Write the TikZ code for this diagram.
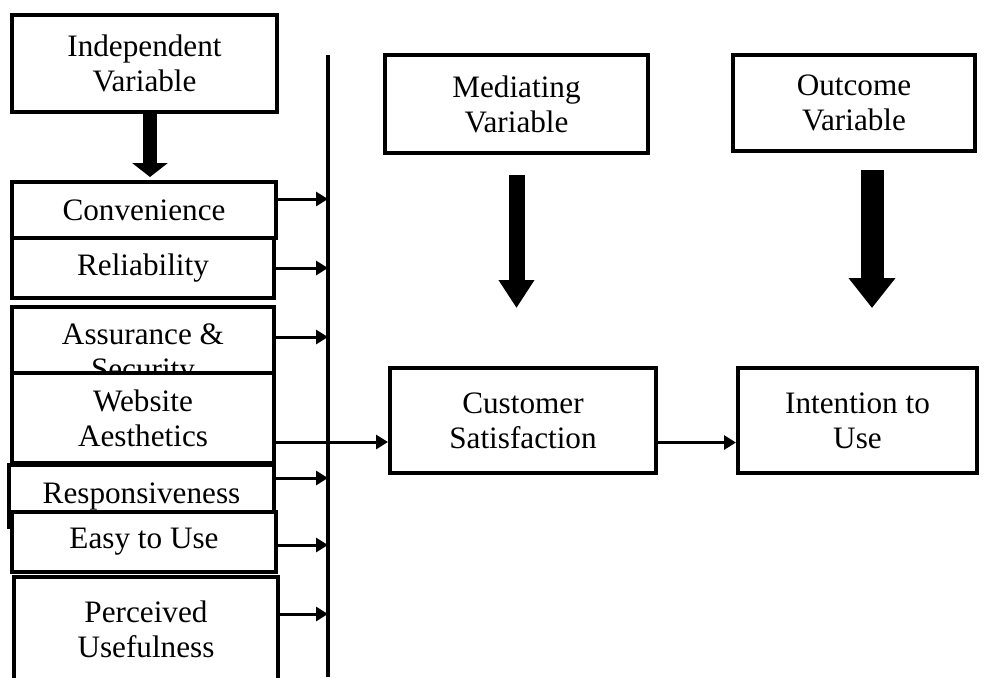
\documentclass[tikz,border=0pt]{standalone}
\usepackage{fontspec}
\setmainfont{Liberation Serif}
\usetikzlibrary{arrows.meta,calc}

\begin{document}
\begin{tikzpicture}
      [x = 0.5pt, y = -0.5pt,
      box/.style= {
         draw,
         fill = white,
         line width = 2pt,
         inner sep = 0pt,
         align = center,
         font = \fontsize{15.6}{17.5}\selectfont
      },
      link/.style= {
         line width = 1.5pt,
         -{Triangle[length = 6pt, width = 7pt]}
      },
      bigarrow/.style n args= {3}{
         line width = #1,
         -{Triangle[length = #2, width = #3]}
      }]
      \useasboundingbox (0, 0) rectangle (992, 677);

      \node[box, minimum width = 132.5pt, minimum height = 48.5pt] (indep) at (144.5, 63.5) {Independent\\Variable};
      \node[box, minimum width = 132pt, minimum height = 28pt] (conv) at (144, 210) {Convenience};
      \node[box, minimum width = 131pt, minimum height = 30pt] (reliab) at (143, 268) {Reliability};
      \node[box, minimum width = 131pt, minimum height = 48pt] (assur) at (143, 355) {Assurance \&\\Security};
      \node[box, minimum width = 131pt, minimum height = 45pt] (websi) at (143, 418) {Website\\Aesthetics};
      \node[box, minimum width = 132.5pt, minimum height = 31pt] (respon) at (141.5, 496) {Responsiveness};
      \node[box, minimum width = 132pt, minimum height = 30pt] (easy) at (144, 542) {Easy to Use};
      \node[box, minimum width = 132pt, minimum height = 52.5pt] (useful) at (146, 629.5) {Perceived\\Usefulness};

      \node[box, minimum width = 131.5pt, minimum height = 49pt] (mediat) at (516.5, 104) {Mediating\\Variable};
      \node[box, minimum width = 121pt, minimum height = 48pt] (outcome) at (854, 103) {Outcome\\Variable};
      \node[box, minimum width = 133pt, minimum height = 52.5pt] (satisf) at (523, 420.5) {Customer\\Satisfaction};
      \node[box, minimum width = 119.5pt, minimum height = 52.5pt] (intent) at (857.5, 420.5) {Intention to\\Use};

      % the bar the factors point to
      \coordinate (bartop) at (328, 55);
      \coordinate (barbot) at (328, 677);
      \draw[line width = 1.6pt] (bartop) -- (barbot);

      \draw[bigarrow = {7pt}{7pt}{17.5pt}, shorten >= 1.5pt]
         ([xshift = 2.75pt]indep.south) -- ([xshift = 2.75pt]indep.south |- conv.north);
      \draw[bigarrow = {8pt}{14pt}{17pt}, shorten <= 10pt, shorten >= 29pt]
         (mediat.south) -- (mediat.south |- satisf.north);
      \draw[bigarrow = {11.5pt}{15pt}{22.5pt}, shorten <= 8.5pt, shorten >= 29pt]
         ([xshift = 9pt]outcome.south) -- ([xshift = 9pt]outcome.south |- intent.north);

      \draw[link] ([yshift = 5.5pt]conv.east) -- ([yshift = 5.5pt]conv.east -| bartop);
      \draw[link] (reliab.east) -- (reliab.east -| bartop);
      \draw[link] ([yshift = 9pt]assur.east) -- ([yshift = 9pt]assur.east -| bartop);
      \draw[link] ([yshift = -12pt]websi.east) -- ([yshift = -12pt]websi.east -| satisf.west);
      \draw[link] ([yshift = 9pt]respon.east) -- ([yshift = 9pt]respon.east -| bartop);
      \draw[link] ([yshift = -1.5pt]easy.east) -- ([yshift = -1.5pt]easy.east -| bartop);
      \draw[link] ([yshift = 7.75pt]useful.east) -- ([yshift = 7.75pt]useful.east -| bartop);
      \draw[link] ([yshift = -11pt]satisf.east) -- ([yshift = -11pt]satisf.east -| intent.west);

   \end{tikzpicture}
\end{document}
